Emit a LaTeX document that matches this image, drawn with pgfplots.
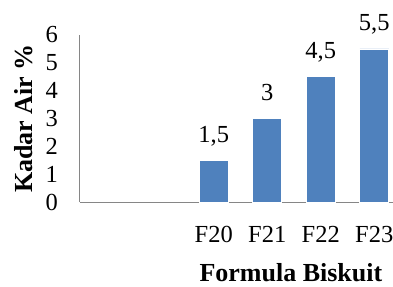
\documentclass[border=0pt]{standalone}
\usepackage{fontspec}
\setmainfont{Liberation Serif}
\usepackage{pgfplots}
\pgfplotsset{compat=1.18}
\definecolor{barblue}{HTML}{4F81BD}
\definecolor{axgray}{HTML}{868686}
\begin{document}
\begin{tikzpicture}
\begin{axis}[
  at={(0,0)}, anchor=south west,
  scale only axis,
  width=321bp, height=167bp,
  xmin=-0.5, xmax=5.5,
  ymin=0, ymax=6,
  axis x line*=bottom, axis y line*=left,
  axis line style={axgray, line width=1bp, -},
  major tick length=0pt,
  xtick={2,3,4,5},
  xticklabels={F20,F21,F22,F23},
  ytick={0,1,2,3,4,5,6},
  /pgf/number format/assume math mode=true,
  tick label style={font=\fontsize{24.5bp}{28bp}\selectfont, text=black},
  xticklabel style={anchor=base, inner sep=0pt, yshift=-40bp},
  yticklabel style={anchor=east, inner sep=0pt, xshift=-22bp},
  ylabel={\textbf{Kadar Air \%}},
  ylabel style={at={(axis description cs:-0.1495,0.5)}, anchor=base, rotate=0, font=\fontsize{26bp}{30bp}\selectfont, inner sep=0pt},
  xlabel={\textbf{Formula Biskuit}},
  xlabel style={at={(axis description cs:0.657,0)}, anchor=base, yshift=-79bp, font=\fontsize{26bp}{30bp}\selectfont, inner sep=0pt},
  ybar, bar width=29bp, bar shift=0pt,
  nodes near coords,
  nodes near coords style={anchor=base, inner sep=0pt, yshift=18bp, font=\fontsize{24.5bp}{28bp}\selectfont, /pgf/number format/use comma, /pgf/number format/assume math mode=true},
  clip=false,
]
\addplot[fill=barblue, draw=white, line width=0.8bp] coordinates {(2,1.5) (3,3) (4,4.5) (5,5.5)};
\coordinate (ll) at (rel axis cs:0,0);
\end{axis}
\pgfresetboundingbox
\path[use as bounding box] ([xshift=-80bp,yshift=-85bp]ll) rectangle ([xshift=313bp,yshift=202bp]ll);
\end{tikzpicture}
\end{document}
